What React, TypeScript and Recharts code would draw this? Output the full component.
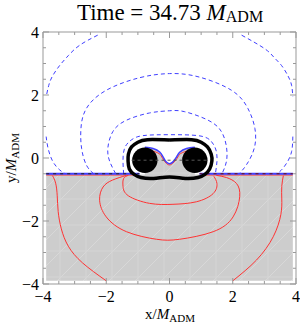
import React from "react";
import { ComposedChart, Scatter, XAxis, YAxis } from "recharts";

// tick values (x and y share them)
const TICKS = [-4, -3.5, -3, -2.5, -2, -1.5, -1, -0.5, 0, 0.5, 1, 1.5, 2, 2.5, 3, 3.5, 4];
const LABELED = [-4, -2, 0, 2, 4];

// blue dashed contours (upper half)
const blue1L = [[-2.27, 3.9], [-2.84, 3.58], [-3.2, 3.25], [-3.47, 2.94], [-3.7, 2.6], [-3.82, 2.3], [-3.9, 1.94]];
const blue1R = [[2.28, 3.9], [3.01, 3.47], [3.3, 3.2], [3.54, 2.94], [3.75, 2.6], [3.86, 2.31], [3.9, 1.95]];
const blue2L = [[-3.9, 0.68], [-3.84, 0.31], [-3.69, -0.11], [-3.47, -0.38], [-3.3, -0.5]];
const blue2R = [[3.9, 0.68], [3.86, 0.2], [3.7, -0.17], [3.49, -0.43], [3.35, -0.5]];
const blue3 = [[-2.4, -0.5], [-2.63, -0.22], [-2.78, 0.31], [-2.8, 0.94], [-2.63, 1.57], [-2.0, 2.15], [-0.94, 2.55], [0, 2.68], [0.9, 2.58], [1.96, 2.15], [2.48, 1.57], [2.7, 0.94], [2.68, 0.31], [2.43, -0.22], [2.2, -0.5]];
const blue4 = [[-1.7, -0.5], [-1.89, -0.11], [-1.95, 0.31], [-1.79, 0.84], [-1.36, 1.2], [-0.63, 1.43], [0, 1.5], [0.48, 1.47], [1.22, 1.2], [1.64, 0.84], [1.8, 0.36], [1.8, -0.11], [1.66, -0.5]];
const blue5 = [[-1.45, -0.5], [-1.47, -0.11], [-1.42, 0.31], [-1.21, 0.57], [-0.84, 0.71], [0, 0.74], [0.9, 0.71], [1.3, 0.55], [1.47, 0.25], [1.5, -0.11], [1.45, -0.5]];

// red contours (lower half)
const red1L = [[-3.7, -0.56], [-3.6, -0.8], [-3.55, -1.2], [-3.52, -1.7], [-3.42, -2.25], [-3.2, -2.8], [-2.75, -3.33], [-2.0, -3.9]];
const red1R = [[2.0, -3.9], [2.75, -3.24], [3.28, -2.5], [3.52, -1.8], [3.55, -1.3], [3.55, -0.9], [3.6, -0.56]];
const red2 = [[-1.36, -0.55], [-1.8, -0.7], [-2.1, -0.92], [-2.21, -1.34], [-2.0, -1.87], [-1.36, -2.34], [-0.41, -2.58], [0.32, -2.58], [1.38, -2.34], [2.01, -1.87], [2.22, -1.23], [2.12, -0.81], [1.8, -0.62], [1.48, -0.55]];
const red3 = [[-1.3, -0.55], [-1.45, -0.65], [-1.47, -0.9], [-1.3, -1.2], [-0.63, -1.44], [0.11, -1.47], [0.85, -1.39], [1.38, -1.13], [1.5, -0.81], [1.4, -0.58]];

// zero level along the boundary
const zeroBlueL = [[-3.9, -0.5], [-0.95, -0.5]];
const zeroBlueR = [[0.95, -0.5], [3.9, -0.5]];
const zeroRedL = [[-3.9, -0.54], [-1.0, -0.54]];
const zeroRedR = [[1.0, -0.54], [3.9, -0.54]];
const dipBlue = [[-0.78, 0.34], [-0.52, 0.3], [-0.31, 0.19], [-0.2, 0.03], [-0.1, -0.13], [0, -0.18], [0.1, -0.13], [0.22, 0.03], [0.33, 0.19], [0.54, 0.3], [0.8, 0.34]];
const dipRed = [[-0.6, 0.24], [-0.33, 0.14], [-0.22, -0.01], [-0.1, -0.17], [0, -0.22], [0.1, -0.17], [0.24, -0.01], [0.35, 0.14], [0.62, 0.24]];

// shaded region
const shade = [[-3.9, -0.52], [-0.78, -0.52], [-0.78, 0.34], [-0.52, 0.3], [-0.31, 0.19], [-0.2, 0.03], [-0.1, -0.13], [0, -0.18], [0.1, -0.13], [0.22, 0.03], [0.33, 0.19], [0.54, 0.3], [0.8, 0.34], [0.8, -0.52], [3.9, -0.52], [3.9, -3.9], [-3.9, -3.9], [-3.9, -0.52]];

// common horizon and the two holes
const horizon = [[0, 0.57], [0.7, 0.58], [1.0, 0.5], [1.2, 0.35], [1.32, 0.12], [1.34, -0.1], [1.27, -0.35], [1.12, -0.52], [0.9, -0.62], [0.5, -0.65], [0, -0.6], [-0.5, -0.65], [-0.9, -0.62], [-1.12, -0.52], [-1.27, -0.35], [-1.31, -0.1], [-1.3, 0.12], [-1.2, 0.35], [-1.0, 0.5], [-0.7, 0.58], [0, 0.57]];
const holes = [[-0.78, -0.07], [0.8, -0.07]];
const axisLine = [[-1.2, -0.07], [1.22, -0.07]];

const BLUE = "#4040ff";
const RED = "#ff3333";
const FRAME = "#999";
const SERIF = "'Liberation Serif', 'Times New Roman', serif";
const HOLE_R = 12.7;

const pts = (a: number[][]) => a.map(([x, y]) => ({ x, y }));
const Empty = () => <g />;
const Hole = ({ cx, cy }: any) => <circle cx={cx} cy={cy} r={HOLE_R} fill="#000" />;

const lbl = (v: number) => (v < 0 ? "\u2212" + Math.abs(v) : String(v));
const isMajor = (v: number) => LABELED.includes(v);

function BottomTick({ x, y, payload }: any) {
  const v = payload.value;
  return (
    <g>
      <line x1={x} x2={x} y1={y} y2={y - (isMajor(v) ? 6 : 3)} stroke={FRAME} />
      {isMajor(v) && (
        <text x={x} y={y + 18} textAnchor="middle" fontSize={16} fontFamily={SERIF} fill="#000">
          {lbl(v)}
        </text>
      )}
    </g>
  );
}
function TopTick({ x, y, payload }: any) {
  const v = payload.value;
  return <line x1={x} x2={x} y1={y} y2={y + (isMajor(v) ? 6 : 3)} stroke={FRAME} />;
}
function LeftTick({ x, y, payload }: any) {
  const v = payload.value;
  return (
    <g>
      <line x1={x} x2={x + (isMajor(v) ? 6 : 3)} y1={y} y2={y} stroke={FRAME} />
      {isMajor(v) && (
        <text x={x - 4} y={y + 5.5} textAnchor="end" fontSize={16} fontFamily={SERIF} fill="#000">
          {lbl(v)}
        </text>
      )}
    </g>
  );
}
function RightTick({ x, y, payload }: any) {
  const v = payload.value;
  return <line x1={x} x2={x - (isMajor(v) ? 6 : 3)} y1={y} y2={y} stroke={FRAME} />;
}

export default function App() {
  const curve = (data: number[][], color: string, dash?: string, width = 1, joint = "natural", fill = "none", key?: string) => (
    <Scatter
      key={key}
      data={pts(data)}
      xAxisId="b"
      yAxisId="l"
      shape={Empty}
      line={{ stroke: color, strokeWidth: width, strokeDasharray: dash, fill }}
      lineType="joint"
      lineJointType={joint as any}
      isAnimationActive={false}
    />
  );

  return (
    <div style={{ position: "absolute", left: 0, top: 0, width: 300, height: 323, background: "#fff", fontFamily: SERIF }}>
      <div style={{ position: "absolute", left: 20, top: 0, width: 300, textAlign: "center", fontSize: 23, lineHeight: "26px", color: "#000", whiteSpace: "nowrap" }}>
        Time = 34.73 <i>M</i>
        <span style={{ fontSize: 16, position: "relative", top: 2 }}>ADM</span>
      </div>
      <div style={{ position: "absolute", left: 20, top: 306, width: 300, textAlign: "center", fontSize: 15, lineHeight: "17px", color: "#000" }}>
        x/<i>M</i>
        <span style={{ fontSize: 11, position: "relative", top: 3 }}>ADM</span>
      </div>
      <div style={{ position: "absolute", left: 12, top: 158, width: 0, height: 0 }}>
        <div style={{ position: "absolute", left: -60, top: -9, width: 120, textAlign: "center", fontSize: 15, lineHeight: "17px", color: "#000", transform: "rotate(-90deg)", whiteSpace: "nowrap" }}>
          y/<i>M</i>
          <span style={{ fontSize: 11, position: "relative", top: 3 }}>ADM</span>
        </div>
      </div>
      <div style={{ position: "absolute", left: 0, top: 0 }}>
        <ComposedChart width={300} height={323} margin={{ top: 30, right: 3, bottom: 19, left: 13 }}>
          <defs>
            <pattern id="hatch" width="26" height="26" patternUnits="userSpaceOnUse">
              <rect width="26" height="26" fill="#cdcdcd" />
              <path d="M0 26 L26 0" stroke="#d8d8d8" strokeWidth="1" />
              <path d="M8 0 V26 M0 17 H26" stroke="#d6d6d6" strokeWidth="1" />
            </pattern>
          </defs>
          <XAxis xAxisId="b" type="number" dataKey="x" domain={[-4, 4]} ticks={TICKS} height={20} tickSize={0} tickMargin={0} tickLine={false} axisLine={{ stroke: FRAME }} tick={BottomTick} interval={0} allowDataOverflow />
          <XAxis xAxisId="t" orientation="top" type="number" dataKey="x" domain={[-4, 4]} ticks={TICKS} height={2} tickSize={0} tickMargin={0} tickLine={false} axisLine={{ stroke: FRAME }} tick={TopTick} interval={0} allowDataOverflow />
          <YAxis yAxisId="l" type="number" dataKey="y" domain={[-4, 4]} ticks={TICKS} width={30} tickSize={0} tickMargin={0} tickLine={false} axisLine={{ stroke: FRAME }} tick={LeftTick} interval={0} allowDataOverflow />
          <YAxis yAxisId="r" orientation="right" type="number" dataKey="y" domain={[-4, 4]} ticks={TICKS} width={1} tickSize={0} tickMargin={0} tickLine={false} axisLine={{ stroke: FRAME }} tick={RightTick} interval={0} allowDataOverflow />

          {curve(shade, "none", undefined, 0, "linear", "url(#hatch)", "shade")}

          {curve(blue1L, BLUE, "4 3", 1, "natural", "none", "b1l")}
          {curve(blue1R, BLUE, "4 3", 1, "natural", "none", "b1r")}
          {curve(blue2L, BLUE, "4 3", 1, "natural", "none", "b2l")}
          {curve(blue2R, BLUE, "4 3", 1, "natural", "none", "b2r")}
          {curve(blue3, BLUE, "4 3", 1, "natural", "none", "b3")}
          {curve(blue4, BLUE, "4 3", 1, "natural", "none", "b4")}
          {curve(blue5, BLUE, "4 3", 1, "natural", "none", "b5")}

          {curve(red1L, RED, undefined, 1, "natural", "none", "r1l")}
          {curve(red1R, RED, undefined, 1, "natural", "none", "r1r")}
          {curve(red2, RED, undefined, 1, "natural", "none", "r2")}
          {curve(red3, RED, undefined, 1, "natural", "none", "r3")}

          {curve(zeroRedL, RED, undefined, 1, "linear", "none", "zrl")}
          {curve(zeroRedR, RED, undefined, 1, "linear", "none", "zrr")}
          {curve(zeroBlueL, BLUE, undefined, 2, "linear", "none", "zbl")}
          {curve(zeroBlueR, BLUE, undefined, 2, "linear", "none", "zbr")}
          {curve(zeroBlueL, "#222", "3 4", 1, "linear", "none", "zdl")}
          {curve(zeroBlueR, "#6a1010", "3 4", 1, "linear", "none", "zdr")}
          {curve(dipRed, RED, undefined, 1, "natural", "none", "dr")}
          {curve(dipBlue, BLUE, undefined, 1.5, "natural", "none", "db")}

          {curve(horizon, "#000", undefined, 3.5, "natural", "none", "hz")}

          <Scatter data={pts(holes)} xAxisId="b" yAxisId="l" shape={Hole} isAnimationActive={false} />
          {curve(axisLine, "#555", "3 3", 1, "linear", "none", "al")}
        </ComposedChart>
      </div>
    </div>
  );
}
